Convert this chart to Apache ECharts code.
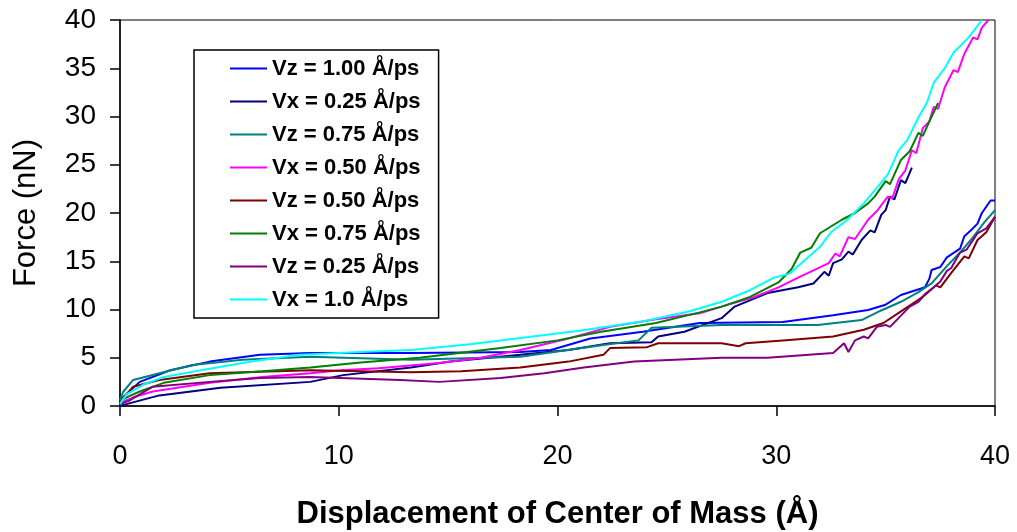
<!DOCTYPE html>
<html>
<head>
<meta charset="utf-8">
<script src="https://cdn.jsdelivr.net/npm/echarts@6/dist/echarts.min.js"></script>
<style>
html,body{margin:0;padding:0;background:#fff;}
#chart{width:1017px;height:532px;}
</style>
</head>
<body>
<div id="chart"></div>
<script>
const xTicks = [0, 10, 20, 30, 40];
const yTicks = [0, 5, 10, 15, 20, 25, 30, 35, 40];
const seriesNames = ['Vz = 1.00 Å/ps','Vx = 0.25 Å/ps','Vz = 0.75 Å/ps','Vx = 0.50 Å/ps','Vz = 0.50 Å/ps','Vx = 0.75 Å/ps','Vz = 0.25 Å/ps','Vx = 1.0 Å/ps'];
const seriesColors = ['#0000FF','#000080','#008080','#FF00FF','#800000','#008000','#800080','#00FFFF'];

const vz100 = [[0,0.5],[0.14,0.9],[0.9,2.5],[2.3,3.7],[4.1,4.6],[6.4,5.3],[8.7,5.5],[13.3,5.5],[18.3,5.6],[19.7,5.8],[21.5,7.0],[23.9,7.7],[26.5,8.6],[30.3,8.7],[32.6,9.4],[34.2,9.95],[35.0,10.5],[35.7,11.5],[36.8,12.3],[37.0,13.2],[37.1,14.1],[37.5,14.4],[37.8,15.4],[38.4,16.3],[38.6,17.6],[38.9,18.2],[39.2,18.9],[39.4,20],[39.8,21.3],[40,21.3]];
const vx025 = [[0,0],[0.46,0.3],[1.8,1.1],[4.6,1.9],[8.7,2.5],[10.2,3.2],[13.3,4.0],[15.1,4.6],[18.3,5.3],[20.5,5.8],[22.4,6.5],[24.3,6.6],[24.6,7.2],[25.8,7.7],[27.5,9.1],[28.1,10.3],[29.6,11.7],[31.0,12.3],[31.7,12.7],[32.2,13.9],[32.4,13.5],[32.6,14.8],[33.0,15.2],[33.3,16.0],[33.5,15.7],[33.9,17.2],[34.3,18.2],[34.5,18.0],[34.8,19.8],[35.0,20.3],[35.2,21.7],[35.4,21.4],[35.7,23.4],[35.9,23.1],[36.2,24.7]];
const vz075 = [[0,0.6],[0.14,1.45],[0.6,2.7],[1.8,3.4],[3.3,4.25],[5.6,4.8],[8.7,5.1],[13.3,4.8],[18.3,5.1],[22,6.3],[23.7,6.8],[24.3,8.1],[27.5,8.4],[31.9,8.4],[33.9,8.9],[34.8,9.9],[35.7,10.8],[36.5,11.8],[37.1,12.7],[37.8,14.5],[38.4,15.9],[39.0,17.5],[39.5,19],[40,20.3]];
const vx050 = [[0,0.3],[0.6,0.9],[1.5,1.5],[4.1,2.4],[6.5,3.0],[8.7,3.4],[10.1,3.7],[11.8,3.9],[14.6,4.45],[16.5,5.0],[18.3,5.8],[20.5,7.0],[22.4,8.2],[24.5,9.0],[26.5,9.6],[27.5,10.3],[29,11.3],[30.1,12.3],[31.1,13.4],[32.4,14.8],[32.7,15.8],[32.9,15.5],[33.3,17.5],[33.6,17.3],[34.2,19.3],[34.6,20.2],[35.1,21.7],[35.3,21.5],[35.6,23.5],[35.9,24.4],[36.2,26.5],[36.4,26.2],[36.7,28.8],[37.0,29.5],[37.2,31],[37.4,30.8],[37.7,33.0],[38.1,34.8],[38.3,34.6],[38.6,36.5],[39.0,38.2],[39.2,38.0],[39.4,39.2],[39.7,40]];
const vz050 = [[0,0.4],[0.6,2.0],[1.8,2.7],[4.1,3.4],[8.7,3.7],[13.3,3.5],[15.6,3.6],[18.3,4.0],[20.5,4.6],[22.1,5.3],[22.4,6.0],[24.1,6.1],[24.6,6.5],[27.5,6.5],[28.3,6.2],[28.6,6.5],[30.3,6.8],[32.6,7.2],[34,7.9],[34.9,8.6],[35.7,9.8],[36.5,11],[36.8,11.5],[37.3,12.5],[37.5,12.3],[38,13.8],[38.6,15.5],[38.8,15.3],[39.2,17.2],[39.6,18.0],[40,19.6]];
const vx075 = [[0,0.5],[0.4,1.0],[0.9,1.5],[2,2.4],[4.1,3.2],[6.5,3.6],[8.7,4.0],[11,4.5],[13.7,5.0],[17.4,6.0],[20,6.8],[22,7.7],[24.5,8.6],[26.5,9.7],[27.5,10.3],[28.8,11.3],[30.1,12.8],[30.7,14.2],[31.1,15.9],[31.6,16.4],[32.0,17.9],[33.0,19.3],[33.6,20.0],[34.2,21.0],[34.5,21.7],[35.0,23.3],[35.2,23.0],[35.7,25.5],[36.1,26.4],[36.5,28.3],[36.7,28.0],[37.0,29.5],[37.4,31.4]];
const vz025 = [[0,0.2],[0.46,0.6],[1.5,2.0],[4.1,2.5],[6.4,2.9],[8.7,3.0],[12.8,2.7],[14.6,2.5],[17.4,2.9],[19.4,3.4],[21.2,4.0],[23.5,4.6],[27.5,5.0],[29.6,5.0],[32.6,5.5],[33.1,6.5],[33.3,5.6],[33.6,6.8],[34.0,7.2],[34.2,7.0],[34.6,8.2],[35.0,8.4],[35.2,8.2],[35.8,9.6],[36.1,10.3],[36.5,10.8],[36.8,11.6],[37.2,12.3],[37.5,12.9],[37.8,14.0],[38.0,14.3],[38.4,15.9],[38.7,16.2],[39.2,17.9],[39.6,18.4],[40,19.6]];
const vx100 = [[0,0.2],[0.3,1.2],[1.05,2.2],[2,3.0],[3.7,3.7],[6,4.6],[8.2,5.3],[11,5.6],[13.3,5.8],[16,6.4],[18.3,7.05],[21,7.8],[24,8.8],[26,9.8],[27.5,10.8],[28.8,12.0],[29.9,13.3],[30.6,13.7],[31.3,15.1],[32,16.5],[32.5,18.0],[33.2,19.2],[34.0,21.0],[34.6,22.6],[35.1,24.0],[35.6,26.5],[36,27.6],[36.5,29.9],[36.9,31.5],[37.2,33.5],[37.7,35.0],[38.1,36.6],[38.8,38.2],[39.4,40]];

const allData = [vz100, vx025, vz075, vx050, vz050, vx075, vz025, vx100];

const chart = echarts.init(document.getElementById('chart'), null, {renderer:'canvas'});
const FONT = 'Liberation Sans, Arial, sans-serif';

chart.setOption({
  animation: false,
  backgroundColor: '#fff',
  grid: {left:120, right:22, top:20, bottom:126, containLabel:false, outerBoundsMode:'none', show:true, borderColor:'#000', borderWidth:1, backgroundColor:'transparent'},
  legend: {
    data: seriesNames,
    orient: 'vertical',
    left: 194, top: 50,
    padding: [7, 18, 7, 36],
    itemGap: 10,
    itemWidth: 37, itemHeight: 2,
    itemTextGap: 5,
    icon: 'rect',
    borderColor: '#000', borderWidth: 1.5,
    backgroundColor: '#fff',
    textStyle: {fontFamily: FONT, fontSize: 22, fontWeight: 'bold', color: '#000', lineHeight: 23}
  },
  xAxis: {
    type: 'value', min: xTicks[0], max: xTicks[xTicks.length-1], interval: 10,
    name: 'Displacement of Center of Mass (Å)', nameLocation: 'middle', nameGap: 93,
    nameTextStyle: {fontFamily: FONT, fontSize: 31, fontWeight: 'bold', color: '#000'},
    axisLine: {show:true, onZero:false, lineStyle:{color:'#000', width:1.5}},
    axisTick: {show:true, inside:false, length:10, lineStyle:{color:'#000', width:1.5}},
    axisLabel: {fontFamily: FONT, fontSize: 27, color:'#000', margin: 37},
    splitLine: {show:false}
  },
  yAxis: {
    type: 'value', min: yTicks[0], max: yTicks[yTicks.length-1], interval: 5,
    name: 'Force (nN)', nameLocation: 'middle', nameGap: 78,
    nameTextStyle: {fontFamily: FONT, fontSize: 31, color: '#000'},
    axisLine: {show:true, lineStyle:{color:'#000', width:1.5}},
    axisTick: {show:true, inside:false, length:10, lineStyle:{color:'#000', width:1.5}},
    axisLabel: {fontFamily: FONT, fontSize: 28, color:'#000', margin: 24},
    splitLine: {show:false}
  },
  series: allData.map((d, i) => ({
    name: seriesNames[i],
    type: 'line',
    data: d,
    showSymbol: false,
    symbol: 'none',
    color: seriesColors[i],
    lineStyle: {width: 2, color: seriesColors[i]},
    itemStyle: {color: seriesColors[i]},
    clip: true
  }))
});
</script>
</body>
</html>
